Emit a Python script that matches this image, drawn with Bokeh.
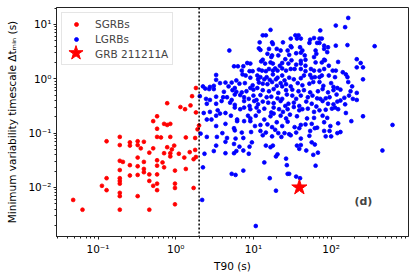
from bokeh.plotting import figure
from bokeh.models import (Span, Legend, LegendItem, FixedTicker,
                          CustomJSTickFormatter, Label, ColumnDataSource)
from bokeh.embed import file_html
from bokeh.resources import INLINE

# ---- data: (log10 T90 [s], log10 minimum variability timescale [s]) ----
sgrb_points = [
    (0.26, -0.17), (0.21, -0.32), (-0.11, -0.45), (0.06, -0.52), (0.12, -0.56),
    (0.19, -0.49), (0.26, -0.62), (-0.24, -0.69), (-0.29, -0.78),
    (-0.15, -0.83), (-0.11, -0.85), (-0.07, -0.83), (-0.24, -0.92),
    (0.30, -0.86), (0.28, -0.93), (-0.89, -1.15), (-0.72, -1.07),
    (-0.24, -1.07), (-0.19, -1.08), (-0.07, -1.07), (0.13, -1.08), (0.25, -1.09),
    (-0.59, -1.17), (-0.49, -1.15), (-0.41, -1.16),
    (-0.72, -1.22), (-0.59, -1.23), (-0.49, -1.22),
    (-0.45, -1.28), (-0.29, -1.28), (-0.11, -1.26), (-0.02, -1.23),
    (-0.34, -1.36), (-0.15, -1.37), (-0.07, -1.37), (-0.05, -1.30), (0.04, -1.38),
    (0.18, -1.35), (0.25, -1.31),
    (-0.49, -1.45), (-0.07, -1.43), (0.11, -1.45), (0.23, -1.48), (0.26, -1.44),
    (-0.72, -1.51), (-0.68, -1.53), (-0.41, -1.53), (-0.24, -1.50), (-0.17, -1.54),
    (-0.59, -1.59), (-0.49, -1.61), (-0.24, -1.60), (-0.15, -1.63),
    (-0.72, -1.68), (-0.41, -1.66), (-0.41, -1.72), (-0.49, -1.77), (-0.59, -1.78),
    (-0.34, -1.76), (-0.24, -1.76), (-0.01, -1.69), (0.13, -1.66),
    (-0.89, -1.83), (-0.72, -1.83), (-0.72, -1.88), (-0.72, -1.93), (-0.34, -1.88),
    (-0.24, -1.93), (-0.29, -1.97), (-0.24, -2.05), (-0.01, -1.93), (-0.01, -2.01),
    (0.23, -2.01), (-0.95, -1.97), (-0.89, -2.05),
    (-0.72, -2.10), (-0.72, -2.16), (-0.49, -2.16), (-0.01, -2.31),
    (-1.32, -2.23), (-1.20, -2.41), (-0.72, -2.41), (-0.34, -2.41),
]

lgrb_points = [
    (2.22, 1.12), (2.06, 0.98), (2.18, 0.95), (1.22, 0.90), (1.86, 0.89),
    (1.12, 0.80), (1.16, 0.80), (1.54, 0.80), (1.58, 0.80), (1.48, 0.74), (1.56, 0.74),
    (1.61, 0.74), (1.73, 0.72), (1.78, 0.75), (1.85, 0.74), (1.88, 0.74),
    (1.08, 0.67), (1.24, 0.67), (1.25, 0.64), (1.38, 0.67), (1.48, 0.60), (1.49, 0.58),
    (1.60, 0.58), (1.72, 0.66), (1.82, 0.66), (1.85, 0.66), (1.91, 0.61), (1.96, 0.58),
    (2.06, 0.61), (2.21, 0.62), (2.56, 0.60),
    (0.69, 0.52), (1.07, 0.56), (1.09, 0.53), (1.20, 0.55), (1.30, 0.55), (1.35, 0.52),
    (1.44, 0.52), (1.55, 0.47), (1.61, 0.48), (1.63, 0.52), (1.80, 0.52), (1.81, 0.46),
    (1.91, 0.55), (1.95, 0.49), (1.18, 0.46),
    (1.23, 0.40), (1.24, 0.43), (1.32, 0.43), (1.46, 0.44), (1.66, 0.43), (1.41, 0.36),
    (1.49, 0.34), (1.61, 0.33), (1.67, 0.35), (1.78, 0.40), (1.91, 0.35), (1.92, 0.34),
    (2.09, 0.31), (1.12, 0.35), (2.33, 0.36),
    (0.92, 0.29), (0.96, 0.28), (1.10, 0.32), (1.15, 0.28), (1.22, 0.30), (1.25, 0.28),
    (1.34, 0.24), (1.37, 0.29), (1.45, 0.28), (1.55, 0.26), (1.61, 0.28), (1.67, 0.24),
    (1.80, 0.30), (1.88, 0.30), (1.97, 0.24), (2.38, 0.29),
    (0.75, 0.23), (0.80, 0.23), (0.85, 0.15), (0.87, 0.23), (0.95, 0.14), (0.99, 0.14),
    (1.07, 0.17), (1.11, 0.15), (1.16, 0.14), (1.20, 0.18), (1.25, 0.15), (1.28, 0.19),
    (1.31, 0.15), (1.37, 0.19), (1.42, 0.15), (1.48, 0.18), (1.53, 0.18), (1.61, 0.18),
    (1.67, 0.14), (1.74, 0.18), (1.78, 0.15), (1.85, 0.15), (1.91, 0.18), (2.02, 0.15),
    (2.06, 0.15), (2.15, 0.12), (2.33, 0.21), (2.41, 0.21),
    (0.52, 0.07), (0.52, -0.02), (0.64, -0.07), (0.72, -0.07), (0.78, -0.03), (0.82, -0.09),
    (0.86, 0.08), (0.90, 0.06), (0.96, 0.02), (1.05, 0.06), (1.06, -0.01), (1.09, 0.03),
    (1.14, -0.01), (1.17, 0.03), (1.21, -0.02), (1.25, 0.08), (1.29, -0.01), (1.31, 0.02),
    (1.37, 0.06), (1.40, -0.03), (1.46, 0.02), (1.52, -0.01), (1.61, 0.01), (1.65, 0.06),
    (1.73, 0.07), (1.75, 0.02), (1.79, 0.03), (1.85, 0.03), (1.88, 0.06), (1.97, 0.06),
    (2.05, 0.03), (2.19, 0.08), (2.21, 0.03), (2.41, -0.01),
    (0.35, -0.14), (0.44, -0.15), (0.49, -0.13), (0.57, -0.08), (0.68, -0.14), (0.76, -0.17),
    (0.89, -0.08), (0.99, -0.12), (1.07, -0.07), (1.12, -0.09), (1.18, -0.10), (1.24, -0.06),
    (1.30, -0.13), (1.35, -0.08), (1.37, -0.14), (1.42, -0.10), (1.48, -0.14), (1.57, -0.08),
    (1.63, -0.12), (1.72, -0.09), (1.77, -0.06), (1.85, -0.06), (1.90, -0.13), (2.00, -0.08),
    (2.03, -0.15), (2.08, -0.17), (2.22, -0.06), (2.27, -0.14),
    (0.38, -0.18), (0.43, -0.19), (0.49, -0.19), (0.62, -0.24), (0.73, -0.21), (0.78, -0.24),
    (0.85, -0.25), (0.91, -0.23), (0.96, -0.17), (1.00, -0.20), (1.05, -0.17), (1.12, -0.21),
    (1.20, -0.23), (1.26, -0.19), (1.32, -0.26), (1.42, -0.21), (1.50, -0.20), (1.58, -0.23),
    (1.65, -0.21), (1.73, -0.25), (1.83, -0.23), (1.89, -0.19), (1.96, -0.25), (2.03, -0.21),
    (2.12, -0.20), (2.25, -0.23), (2.33, -0.26),
    (0.39, -0.37), (0.44, -0.39), (0.52, -0.33), (0.61, -0.34), (0.66, -0.34), (0.72, -0.39),
    (0.76, -0.29), (0.83, -0.30), (0.88, -0.34), (0.94, -0.37), (1.00, -0.31), (1.04, -0.39),
    (1.09, -0.30), (1.17, -0.34), (1.23, -0.33), (1.31, -0.36), (1.37, -0.37), (1.43, -0.29),
    (1.50, -0.31), (1.55, -0.37), (1.61, -0.31), (1.70, -0.34), (1.76, -0.31), (1.82, -0.36),
    (1.86, -0.37), (1.93, -0.36), (1.98, -0.34), (2.07, -0.29), (2.12, -0.40), (2.17, -0.35),
    (2.23, -0.31), (2.28, -0.37), (2.33, -0.39),
    (0.40, -0.46), (0.52, -0.46), (0.59, -0.41), (0.70, -0.44), (0.76, -0.48), (0.88, -0.41),
    (0.95, -0.50), (1.01, -0.41), (1.06, -0.47), (1.12, -0.42), (1.19, -0.44), (1.26, -0.45),
    (1.35, -0.41), (1.41, -0.50), (1.45, -0.46), (1.52, -0.44), (1.59, -0.50), (1.68, -0.42),
    (1.75, -0.46), (1.81, -0.51), (1.89, -0.41), (1.96, -0.46), (2.03, -0.47), (2.08, -0.42),
    (2.18, -0.47),
    (0.36, -0.63), (0.44, -0.61), (0.54, -0.58), (0.64, -0.63), (0.76, -0.53), (0.83, -0.56),
    (0.88, -0.53), (0.96, -0.56), (1.04, -0.53), (1.07, -0.60), (1.14, -0.55), (1.23, -0.62),
    (1.26, -0.53), (1.33, -0.56), (1.38, -0.61), (1.44, -0.56), (1.52, -0.52), (1.59, -0.58),
    (1.63, -0.56), (1.70, -0.55), (1.78, -0.61), (1.85, -0.58), (1.93, -0.57), (2.01, -0.55),
    (2.05, -0.53), (2.09, -0.56), (2.19, -0.63),
    (0.40, -0.75), (0.46, -0.75), (0.52, -0.68), (0.57, -0.64), (0.71, -0.68), (0.79, -0.75),
    (0.93, -0.68), (0.96, -0.73), (1.03, -0.68), (1.14, -0.75), (1.22, -0.69), (1.26, -0.64),
    (1.35, -0.68), (1.42, -0.73), (1.47, -0.66), (1.56, -0.69), (1.69, -0.73), (1.78, -0.72),
    (1.89, -0.68), (1.95, -0.72), (2.41, -0.69), (2.26, -0.78),
    (0.52, -0.87), (0.64, -0.83), (0.75, -0.91), (0.79, -0.78), (0.88, -0.78), (0.96, -0.78),
    (1.02, -0.87), (1.09, -0.85), (1.18, -0.84), (1.24, -0.89), (1.30, -0.80), (1.37, -0.87),
    (1.44, -0.79), (1.53, -0.89), (1.61, -0.85), (1.67, -0.84), (1.75, -0.83), (1.82, -0.90),
    (1.91, -0.80), (1.99, -0.87), (2.09, -0.82), (2.79, -0.85),
    (0.60, -1.00), (0.76, -0.95), (0.85, -0.99), (0.97, -0.98), (1.09, -0.96), (1.16, -0.99),
    (1.28, -0.94), (1.32, -1.00), (1.40, -1.00), (1.46, -1.02), (1.55, -0.99), (1.59, -0.91),
    (1.73, -0.96), (1.79, -0.91), (1.91, -0.96), (1.98, -0.96), (2.12, -0.98),
    (0.40, -1.07), (0.53, -1.07), (0.66, -1.09), (0.77, -1.10), (0.87, -1.09), (1.12, -1.04),
    (1.24, -1.06), (1.36, -1.07), (1.48, -1.04), (1.61, -1.10), (1.72, -1.05), (1.93, -1.06),
    (2.00, -1.06), (2.08, -1.00),
    (0.31, -0.32), (0.32, -1.01),
    (0.52, -1.23), (0.64, -1.16), (0.75, -1.20), (0.82, -1.25), (0.95, -1.25), (0.98, -1.17),
    (1.16, -1.23), (1.25, -1.23), (1.75, -1.17), (1.79, -1.21), (0.37, -1.38), (0.49, -1.33),
    (0.64, -1.37), (0.75, -1.37), (0.78, -1.33), (0.87, -1.32), (0.94, -1.38), (1.22, -1.26),
    (1.29, -1.43), (1.31, -1.39), (1.42, -1.47), (1.43, -1.59), (1.44, -1.75), (1.46, -1.75),
    (1.56, -1.23), (1.59, -1.29), (1.61, -1.22), (1.68, -1.32), (1.77, -1.40), (1.80, -1.60),
    (1.83, -1.36), (2.66, -1.32), (0.35, -1.63), (0.72, -1.75), (0.77, -1.77), (0.87, -1.69),
    (1.14, -1.54), (1.21, -1.83), (1.29, -2.06), (1.55, -1.80), (1.60, -1.83), (0.34, -2.23),
    (1.03, -2.71),
]

grb211211a_t90 = [39.0]
grb211211a_dt = [0.010]

t90_divide = 2.0
x_major_ticks = [0.1, 1, 10, 100]
y_major_ticks = [0.01, 0.1, 1, 10]

series_names = ["SGRBs", "LGRBs", "GRB 211211A"]
panel_tag = "(d)"

# ---- derived columns ----
sgrb_src = ColumnDataSource(dict(t90=[10 ** a for a, b in sgrb_points],
                                 dt=[10 ** b for a, b in sgrb_points]))
lgrb_src = ColumnDataSource(dict(t90=[10 ** a for a, b in lgrb_points],
                                 dt=[10 ** b for a, b in lgrb_points]))
star_src = ColumnDataSource(dict(t90=grb211211a_t90, dt=grb211211a_dt))

FONT = "DejaVu Sans"
FS = "10.5px"

p = figure(width=416, height=277, x_axis_type="log", y_axis_type="log",
           x_range=(0.0292, 990), y_range=(0.00125, 20.5),
           output_backend="svg", toolbar_location=None,
           min_border_left=56, min_border_right=8, min_border_top=7,
           min_border_bottom=41)
p.background_fill_color = "white"
p.border_fill_color = "white"
p.outline_line_color = "#222222"
p.outline_line_width = 1
p.xgrid.visible = False
p.ygrid.visible = False

def minors(lo_exp, hi_exp):
    return [m * 10.0 ** e for e in range(lo_exp, hi_exp + 1) for m in range(2, 10)]

p.xaxis.ticker = FixedTicker(ticks=x_major_ticks, minor_ticks=minors(-2, 2))
p.yaxis.ticker = FixedTicker(ticks=y_major_ticks, minor_ticks=minors(-3, 1))

fmt_code = """
const sup = {"-":"\u207b","0":"\u2070","1":"\u00b9","2":"\u00b2","3":"\u00b3",
             "4":"\u2074","5":"\u2075","6":"\u2076","7":"\u2077","8":"\u2078","9":"\u2079"};
const e = Math.round(Math.log10(tick));
return "10" + String(e).split("").map(c => sup[c]).join("");
"""
for ax in (p.xaxis[0], p.yaxis[0]):
    ax.formatter = CustomJSTickFormatter(code=fmt_code)
    ax.axis_line_color = "#222222"
    ax.axis_line_width = 1
    ax.major_tick_line_color = "#222222"
    ax.minor_tick_line_color = "#222222"
    ax.major_tick_out = 3
    ax.major_tick_in = 0
    ax.minor_tick_out = 2
    ax.minor_tick_in = 0
    ax.major_label_text_font = FONT
    ax.major_label_text_font_size = FS
    ax.major_label_text_color = "black"
    ax.axis_label_text_font = FONT
    ax.axis_label_text_font_size = FS
    ax.axis_label_text_font_style = "normal"
    ax.axis_label_text_color = "black"

p.xaxis.axis_label = "T90 (s)"
p.xaxis.major_label_standoff = 3
p.xaxis.axis_label_standoff = 2
p.yaxis.axis_label = "Minimum variability timescale \u0394t\u2098\u1d62\u2099 (s)"
p.yaxis.major_label_standoff = 2
p.yaxis.axis_label_standoff = 7

sg = p.scatter("t90", "dt", source=sgrb_src, size=3.8, marker="circle",
               fill_color="#ff0000", line_color="#ff0000", line_width=0.8)
lg = p.scatter("t90", "dt", source=lgrb_src, size=3.8, marker="circle",
               fill_color="#0000ff", line_color="#0000ff", line_width=0.8)

p.add_layout(Span(location=t90_divide, dimension="height", line_color="black",
                  line_dash="2 2", line_width=1.5))

st = p.scatter("t90", "dt", source=star_src, size=16, marker="star",
               fill_color="#ff0000", line_color="#ff0000")

p.add_layout(Label(x=260, y=0.0056, text=panel_tag, text_font=FONT,
                   text_font_size="11px", text_font_style="bold",
                   text_align="center", text_baseline="middle"))

legend = Legend(items=[LegendItem(label=series_names[0], renderers=[sg]),
                       LegendItem(label=series_names[1], renderers=[lg]),
                       LegendItem(label=series_names[2], renderers=[st])],
                location="top_left", margin=5, padding=4, spacing=2,
                glyph_width=20, glyph_height=10, label_height=13,
                label_standoff=9, label_text_font=FONT, label_text_font_size=FS,
                label_text_baseline="middle",
                border_line_color="#cccccc", border_line_width=1,
                background_fill_alpha=0.8)
p.add_layout(legend)

# larger star key drawn over the third legend row (matplotlib-style marker scale)
star_key = Legend(items=[LegendItem(label=" ", renderers=[st])],
                  location=(0.5, 165), margin=0, padding=0, spacing=0,
                  glyph_width=37, glyph_height=37, label_height=1,
                  label_standoff=0, label_text_font_size="1px",
                  border_line_color=None, background_fill_alpha=0)
p.add_layout(star_key)

with open("out.html", "w", encoding="utf-8") as f:
    f.write(file_html(p, INLINE))
